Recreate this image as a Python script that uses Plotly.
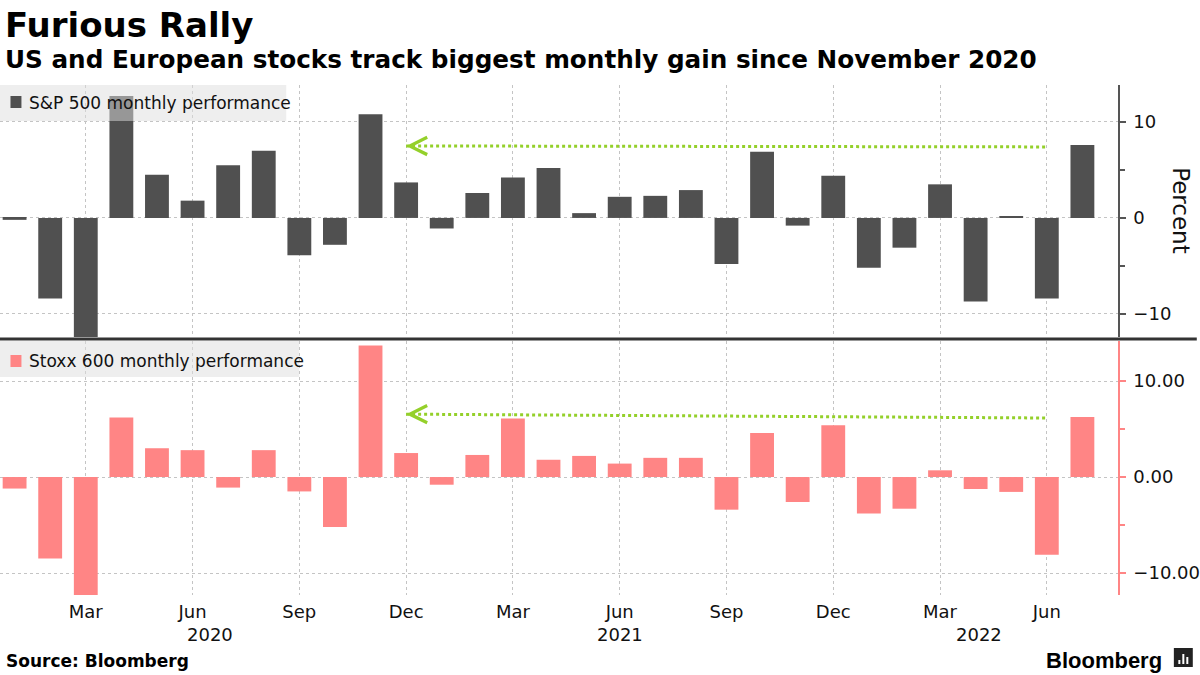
import plotly.graph_objects as go
from plotly.subplots import make_subplots

# monthly performance, Jan 2020 - Jul 2022 (percent)
months = ["2020-01", "2020-02", "2020-03", "2020-04", "2020-05", "2020-06",
          "2020-07", "2020-08", "2020-09", "2020-10", "2020-11", "2020-12",
          "2021-01", "2021-02", "2021-03", "2021-04", "2021-05", "2021-06",
          "2021-07", "2021-08", "2021-09", "2021-10", "2021-11", "2021-12",
          "2022-01", "2022-02", "2022-03", "2022-04", "2022-05", "2022-06",
          "2022-07"]
spx = [-0.2, -8.4, -12.5, 12.7, 4.5, 1.8, 5.5, 7.0, -3.9, -2.8, 10.8, 3.7,
       -1.1, 2.6, 4.2, 5.2, 0.5, 2.2, 2.3, 2.9, -4.8, 6.9, -0.8, 4.4,
       -5.2, -3.1, 3.5, -8.7, 0.1, -8.4, 7.6]
stoxx = [-1.2, -8.5, -15.0, 6.2, 3.0, 2.8, -1.1, 2.8, -1.5, -5.2, 13.7, 2.5,
         -0.8, 2.3, 6.1, 1.8, 2.2, 1.4, 2.0, 2.0, -3.4, 4.6, -2.6, 5.4,
         -3.8, -3.3, 0.7, -1.25, -1.55, -8.1, 6.25]

tick_months = ["2020-03", "2020-06", "2020-09", "2020-12", "2021-03", "2021-06",
               "2021-09", "2021-12", "2022-03", "2022-06"]
tick_text = ["Mar", "Jun", "Sep", "Dec", "Mar", "Jun", "Sep", "Dec", "Mar", "Jun"]
years = ["2020", "2021", "2022"]
series_names = ["S&P 500 monthly performance", "Stoxx 600 monthly performance"]

# "since November 2020" guide arrows: from Dec 2020 to Jun 2022
arrow_months = ["2020-12", "2022-06"]
spx_arrow = [7.5, 7.4]
stoxx_arrow = [6.55, 6.15]

DARK = "#505050"
PINK = "#ff8585"
GREEN = "#94d02a"
GRID = "#c4c4c4"
FONT = "DejaVu Sans"

# plot area is 1121 x 510 px (margins l=0, t=85)
def px_x(x):
    return x / 1121

def px_y(y):
    return (595 - y) / 510

fig = make_subplots(rows=2, cols=1, shared_xaxes=True)

fig.add_trace(go.Bar(x=months, y=spx, name=series_names[0],
                     marker=dict(color=DARK, line=dict(width=0))), row=1, col=1)
fig.add_trace(go.Bar(x=months, y=stoxx, name=series_names[1],
                     marker=dict(color=PINK, line=dict(width=0))), row=2, col=1)

xcommon = dict(type="category", categoryorder="array", categoryarray=months,
               range=[-0.41, 31.0], tickmode="array", tickvals=tick_months,
               ticktext=tick_text, showgrid=True, gridcolor=GRID, griddash="dot",
               gridwidth=1, ticks="", showline=False, zeroline=False,
               ticklabelstandoff=4,
               tickfont=dict(family=FONT, size=18, color="#111"))
fig.update_xaxes(**xcommon)
fig.update_xaxes(showticklabels=False, row=1, col=1)

ycommon = dict(side="right", showgrid=True, gridcolor=GRID, griddash="dot",
               gridwidth=1, zeroline=False, showline=True, linewidth=1.5,
               ticks="outside", ticklen=6, tickwidth=1.5, dtick=10,
               ticklabelstandoff=4,
               tickfont=dict(family=FONT, size=18, color="#111"))
fig.update_yaxes(**ycommon)
fig.update_yaxes(range=[-12.4, 13.85], domain=[0.506, 1.0],
                 linecolor="#555", tickcolor="#555", tickformat="d",
                 minor=dict(dtick=5, ticks="outside", ticklen=5,
                            tickcolor="#555", showgrid=False),
                 row=1, col=1)
fig.update_yaxes(range=[-12.29, 14.17], domain=[0.0, 0.498],
                 linecolor=PINK, tickcolor=PINK, tickformat=".2f",
                 minor=dict(dtick=5, ticks="outside", ticklen=5,
                            tickcolor=PINK, showgrid=False),
                 row=2, col=1)

# dotted guide lines with chevron arrowheads
for ref, lv in (("", spx_arrow), ("2", stoxx_arrow)):
    fig.add_shape(type="line", xref="x" + ref, yref="y" + ref,
                  x0=arrow_months[0], y0=lv[0], x1=arrow_months[1], y1=lv[1],
                  line=dict(color=GREEN, width=3, dash="dot"))
    fig.add_annotation(xref="x" + ref, yref="y" + ref, x=arrow_months[0], y=lv[0],
                       text="", showarrow=True, arrowhead=5, arrowsize=1.7,
                       arrowwidth=2, arrowcolor=GREEN, ax=10, ay=0)

# legend boxes (top-left of each panel, translucent over the bars)
legend_boxes = [dict(box=(287, 121, 85), mark=(108, 96), ty=103, col=DARK),
                dict(box=(300, 377, 341), mark=(367, 355), ty=361, col=PINK)]
for nm, lb in zip(series_names, legend_boxes):
    fig.add_shape(type="rect", xref="paper", yref="paper", x0=0, x1=px_x(lb["box"][0]),
                  y0=px_y(lb["box"][1]), y1=px_y(lb["box"][2]),
                  fillcolor="rgba(222,222,222,0.5)", line=dict(width=0), layer="above")
    fig.add_shape(type="rect", xref="paper", yref="paper", x0=px_x(10.5), x1=px_x(21.5),
                  y0=px_y(lb["mark"][0]), y1=px_y(lb["mark"][1]), fillcolor=lb["col"],
                  line=dict(width=0), layer="above")
    fig.add_annotation(xref="paper", yref="paper", x=px_x(27.5), y=px_y(lb["ty"]), text=nm,
                       xanchor="left", yanchor="middle", showarrow=False,
                       font=dict(family=FONT, size=17, color="#111"))

# panel separator
fig.add_shape(type="line", xref="paper", yref="paper", x0=0, x1=px_x(1200),
              y0=px_y(339), y1=px_y(339), line=dict(color="#333", width=3))

# year labels under the month ticks
for yr, pos in zip(years, [5.5, 17.0, 27.1]):
    fig.add_annotation(xref="x2", yref="paper", x=pos, y=px_y(634), text=yr,
                       showarrow=False, xanchor="center", yanchor="middle",
                       font=dict(family=FONT, size=18, color="#111"))

fig.add_annotation(xref="paper", yref="paper", x=px_x(1184), y=px_y(211), text="Percent",
                   textangle=90, showarrow=False, xanchor="center", yanchor="middle",
                   font=dict(family=FONT, size=23, color="#111"))

fig.add_annotation(xref="paper", yref="paper", x=px_x(3), y=px_y(25), xanchor="left",
                   yanchor="middle", text="<b>Furious Rally</b>", showarrow=False,
                   font=dict(family=FONT, size=34, color="#000"))
fig.add_annotation(xref="paper", yref="paper", x=px_x(3), y=px_y(60), xanchor="left",
                   yanchor="middle", showarrow=False,
                   text="<b>US and European stocks track biggest monthly gain since November 2020</b>",
                   font=dict(family=FONT, size=24.7, color="#000"))
fig.add_annotation(xref="paper", yref="paper", x=px_x(4), y=px_y(661), xanchor="left",
                   yanchor="middle", text="<b>Source: Bloomberg</b>", showarrow=False,
                   font=dict(family=FONT, size=17, color="#000"))
fig.add_annotation(xref="paper", yref="paper", x=px_x(1167), y=px_y(660), xanchor="right",
                   yanchor="middle", text="<b>Bloomberg</b>", showarrow=False,
                   font=dict(family="Liberation Sans", size=22, color="#000"))
# little logo mark
fig.add_shape(type="rect", xref="paper", yref="paper", x0=px_x(1177), x1=px_x(1196),
              y0=px_y(667), y1=px_y(648), fillcolor="#222", line=dict(width=0))
for bx, top in ((1181.5, 660), (1185.5, 654), (1189.5, 657)):
    fig.add_shape(type="rect", xref="paper", yref="paper", x0=px_x(bx), x1=px_x(bx + 2),
                  y0=px_y(664), y1=px_y(top), fillcolor="white", line=dict(width=0))

fig.update_layout(
    width=1200, height=675,
    margin=dict(l=0, r=79, t=85, b=80),
    plot_bgcolor="white", paper_bgcolor="white",
    bargap=0.33, showlegend=False,
)

fig.write_html("out.html", config={"displayModeBar": False},
               post_script="document.body.style.margin='0px';")
